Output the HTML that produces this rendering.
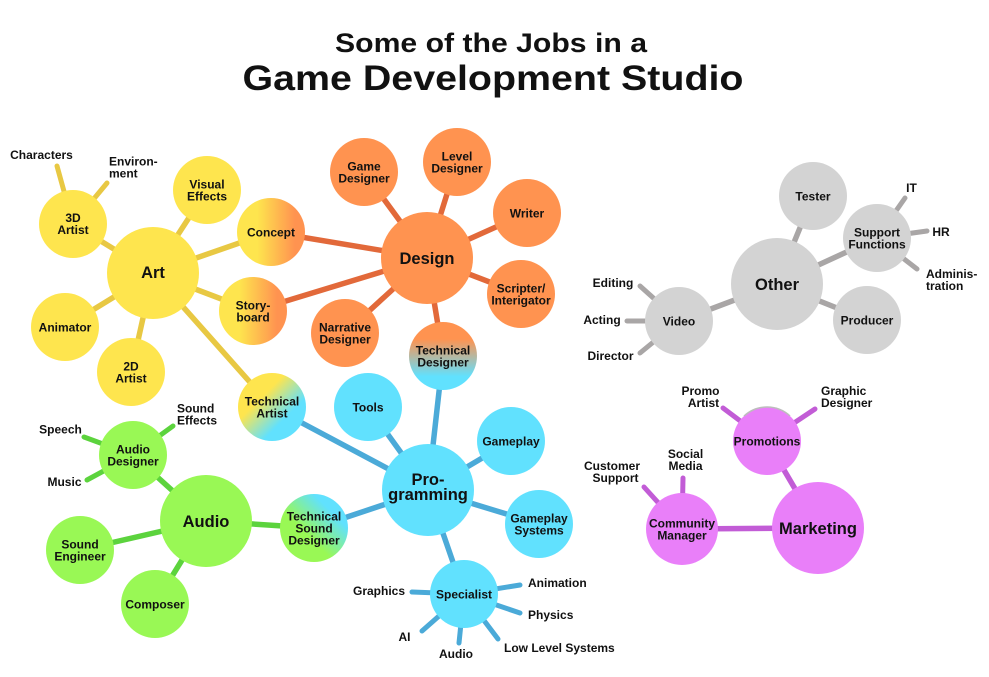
<!DOCTYPE html>
<html>
<head>
<meta charset="utf-8">
<style>
  html, body { margin: 0; padding: 0; background: #ffffff; }
  body { width: 989px; height: 677px; overflow: hidden; }
  svg { display: block; }
</style>
</head>
<body>
<svg width="989" height="677" viewBox="0 0 989 677" xmlns="http://www.w3.org/2000/svg" font-family="'Liberation Sans', Arial, sans-serif" font-weight="bold">
  <defs>
    <linearGradient id="gYO" x1="0" y1="0" x2="1" y2="0">
      <stop offset="0.3" stop-color="#FEE54E"/>
      <stop offset="0.85" stop-color="#FF9350"/>
    </linearGradient>
    <linearGradient id="gTD" x1="0" y1="0" x2="0" y2="1">
      <stop offset="0.25" stop-color="#FF9350"/>
      <stop offset="0.8" stop-color="#61E1FE"/>
    </linearGradient>
    <linearGradient id="gTA" x1="0" y1="0" x2="1" y2="1">
      <stop offset="0.35" stop-color="#FEE54E"/>
      <stop offset="0.68" stop-color="#61E1FE"/>
    </linearGradient>
    <linearGradient id="gTSD" x1="0" y1="1" x2="1" y2="0">
      <stop offset="0.4" stop-color="#99F855"/>
      <stop offset="0.75" stop-color="#61E1FE"/>
    </linearGradient>
  </defs>

  <!-- Title -->
  <text x="491" y="52" font-size="26.5" text-anchor="middle" fill="#111" textLength="312" lengthAdjust="spacingAndGlyphs">Some of the Jobs in a</text>
  <text x="493" y="90" font-size="35" text-anchor="middle" fill="#111" textLength="501" lengthAdjust="spacingAndGlyphs">Game Development Studio</text>

  <!-- ===== Connectors ===== -->
  <g stroke-linecap="round" fill="none">
    <!-- Art (yellow) -->
    <g stroke="#E8C843" stroke-width="5.5">
      <line x1="153" y1="273" x2="73" y2="224"/>
      <line x1="153" y1="273" x2="207" y2="190"/>
      <line x1="153" y1="273" x2="271" y2="232"/>
      <line x1="153" y1="273" x2="253" y2="311"/>
      <line x1="153" y1="273" x2="65" y2="327"/>
      <line x1="153" y1="273" x2="131" y2="372"/>
      <line x1="153" y1="273" x2="272" y2="407"/>
    </g>
    <g stroke="#E8C843" stroke-width="5">
      <line x1="57" y1="166" x2="73" y2="224"/>
      <line x1="107" y1="183" x2="73" y2="224"/>
    </g>
    <!-- Design (orange) -->
    <g stroke="#E2693A" stroke-width="5.5">
      <line x1="427" y1="258" x2="364" y2="172"/>
      <line x1="427" y1="258" x2="457" y2="162"/>
      <line x1="427" y1="258" x2="527" y2="213"/>
      <line x1="427" y1="258" x2="521" y2="294"/>
      <line x1="427" y1="258" x2="345" y2="333"/>
      <line x1="427" y1="258" x2="443" y2="356"/>
      <line x1="427" y1="258" x2="271" y2="232"/>
      <line x1="427" y1="258" x2="253" y2="311"/>
    </g>
    <!-- Programming (blue) -->
    <g stroke="#4BAAD8" stroke-width="5.5">
      <line x1="428" y1="490" x2="368" y2="407"/>
      <line x1="428" y1="490" x2="511" y2="441"/>
      <line x1="428" y1="490" x2="539" y2="524"/>
      <line x1="428" y1="490" x2="464" y2="594"/>
      <line x1="428" y1="490" x2="314" y2="528"/>
      <line x1="428" y1="490" x2="443" y2="356"/>
      <line x1="428" y1="490" x2="272" y2="407"/>
    </g>
    <g stroke="#4BAAD8" stroke-width="5">
      <line x1="412" y1="592" x2="464" y2="594"/>
      <line x1="520" y1="585" x2="464" y2="594"/>
      <line x1="520" y1="613" x2="464" y2="594"/>
      <line x1="498" y1="639" x2="464" y2="594"/>
      <line x1="459" y1="643" x2="464" y2="594"/>
      <line x1="422" y1="631" x2="464" y2="594"/>
    </g>
    <!-- Audio (green) -->
    <g stroke="#5CD33D" stroke-width="5.5">
      <line x1="206" y1="521" x2="133" y2="455"/>
      <line x1="206" y1="521" x2="80" y2="550"/>
      <line x1="206" y1="521" x2="155" y2="604"/>
      <line x1="206" y1="521" x2="314" y2="528"/>
    </g>
    <g stroke="#5CD33D" stroke-width="5">
      <line x1="84" y1="437" x2="133" y2="455"/>
      <line x1="87" y1="480" x2="133" y2="455"/>
      <line x1="173" y1="426" x2="133" y2="455"/>
    </g>
    <!-- Other (gray) -->
    <g stroke="#A9A6A6" stroke-width="5.5">
      <line x1="777" y1="284" x2="813" y2="196"/>
      <line x1="777" y1="284" x2="877" y2="238"/>
      <line x1="777" y1="284" x2="867" y2="320"/>
      <line x1="777" y1="284" x2="679" y2="321"/>
    </g>
    <g stroke="#A9A6A6" stroke-width="5">
      <line x1="640" y1="286" x2="679" y2="321"/>
      <line x1="627" y1="321" x2="679" y2="321"/>
      <line x1="640" y1="353" x2="679" y2="321"/>
      <line x1="905" y1="198" x2="877" y2="238"/>
      <line x1="927" y1="231" x2="877" y2="238"/>
      <line x1="917" y1="269" x2="877" y2="238"/>
    </g>
    <!-- Marketing (pink) -->
    <g stroke="#C25CD6" stroke-width="5.5">
      <line x1="818" y1="528" x2="767" y2="441"/>
      <line x1="818" y1="528" x2="682" y2="529"/>
    </g>
    <g stroke="#C25CD6" stroke-width="5">
      <line x1="723" y1="408" x2="767" y2="441"/>
      <line x1="815" y1="409" x2="767" y2="441"/>
      <line x1="644" y1="487" x2="682" y2="529"/>
      <line x1="683" y1="478" x2="682" y2="529"/>
    </g>
  </g>

  <!-- ===== Circles ===== -->
  <!-- Art -->
  <g fill="#FEE54E">
    <circle cx="153" cy="273" r="46"/>
    <circle cx="73" cy="224" r="34"/>
    <circle cx="207" cy="190" r="34"/>
    <circle cx="65" cy="327" r="34"/>
    <circle cx="131" cy="372" r="34"/>
  </g>
  <circle cx="271" cy="232" r="34" fill="url(#gYO)"/>
  <circle cx="253" cy="311" r="34" fill="url(#gYO)"/>
  <circle cx="272" cy="407" r="34" fill="url(#gTA)"/>
  <!-- Design -->
  <g fill="#FF9350">
    <circle cx="427" cy="258" r="46"/>
    <circle cx="364" cy="172" r="34"/>
    <circle cx="457" cy="162" r="34"/>
    <circle cx="527" cy="213" r="34"/>
    <circle cx="521" cy="294" r="34"/>
    <circle cx="345" cy="333" r="34"/>
  </g>
  <circle cx="443" cy="356" r="34" fill="url(#gTD)"/>
  <!-- Programming -->
  <g fill="#61E1FE">
    <circle cx="428" cy="490" r="46"/>
    <circle cx="368" cy="407" r="34"/>
    <circle cx="511" cy="441" r="34"/>
    <circle cx="539" cy="524" r="34"/>
    <circle cx="464" cy="594" r="34"/>
  </g>
  <circle cx="314" cy="528" r="34" fill="url(#gTSD)"/>
  <!-- Audio -->
  <g fill="#99F855">
    <circle cx="206" cy="521" r="46"/>
    <circle cx="133" cy="455" r="34"/>
    <circle cx="80" cy="550" r="34"/>
    <circle cx="155" cy="604" r="34"/>
  </g>
  <!-- Other -->
  <g fill="#D3D3D3">
    <circle cx="777" cy="284" r="46"/>
    <circle cx="813" cy="196" r="34"/>
    <circle cx="877" cy="238" r="34"/>
    <circle cx="867" cy="320" r="34"/>
    <circle cx="679" cy="321" r="34"/>
  </g>
  <!-- Marketing -->
  <g fill="#E97FF9">
    <circle cx="818" cy="528" r="46"/>
    <circle cx="767" cy="441" r="34"/>
    <circle cx="682" cy="529" r="36"/>
  </g>
  <path d="M 744 416 A 34 34 0 0 1 790 416" fill="none" stroke="#BDBDBD" stroke-width="1.5"/>

  <!-- ===== Labels in circles ===== -->
  <g fill="#111" text-anchor="middle" font-size="16.5">
    <text x="153" y="278">Art</text>
    <text x="427" y="264">Design</text>
    <text x="428" y="485">Pro-</text>
    <text x="428" y="500">gramming</text>
    <text x="206" y="527">Audio</text>
    <text x="777" y="290">Other</text>
    <text x="818" y="534">Marketing</text>
  </g>

  <g fill="#111" text-anchor="middle" font-size="12">
    <!-- Art -->
    <text x="73" y="222">3D</text>
    <text x="73" y="234">Artist</text>
    <text x="207" y="188.5">Visual</text>
    <text x="207" y="200.5">Effects</text>
    <text x="271" y="236.5">Concept</text>
    <text x="253" y="309.5">Story-</text>
    <text x="253" y="321.5">board</text>
    <text x="65" y="331.5">Animator</text>
    <text x="131" y="370.5">2D</text>
    <text x="131" y="382.5">Artist</text>
    <text x="272" y="405.5">Technical</text>
    <text x="272" y="417.5">Artist</text>
    <!-- Design -->
    <text x="364" y="170.5">Game</text>
    <text x="364" y="182.5">Designer</text>
    <text x="457" y="160.5">Level</text>
    <text x="457" y="172.5">Designer</text>
    <text x="527" y="217.5">Writer</text>
    <text x="521" y="292.5">Scripter/</text>
    <text x="521" y="304.5">Interigator</text>
    <text x="345" y="331.5">Narrative</text>
    <text x="345" y="343.5">Designer</text>
    <text x="443" y="354.5">Technical</text>
    <text x="443" y="366.5">Designer</text>
    <!-- Programming -->
    <text x="368" y="411.5">Tools</text>
    <text x="511" y="445.5">Gameplay</text>
    <text x="539" y="522.5">Gameplay</text>
    <text x="539" y="534.5">Systems</text>
    <text x="464" y="598.5">Specialist</text>
    <text x="314" y="520.5">Technical</text>
    <text x="314" y="532.5">Sound</text>
    <text x="314" y="544.5">Designer</text>
    <!-- Audio -->
    <text x="133" y="453.5">Audio</text>
    <text x="133" y="465.5">Designer</text>
    <text x="80" y="548.5">Sound</text>
    <text x="80" y="560.5">Engineer</text>
    <text x="155" y="608.5">Composer</text>
    <!-- Other -->
    <text x="813" y="200.5">Tester</text>
    <text x="877" y="236.5">Support</text>
    <text x="877" y="248.5">Functions</text>
    <text x="867" y="324.5">Producer</text>
    <text x="679" y="325.5">Video</text>
    <!-- Marketing -->
    <text x="767" y="445.5">Promotions</text>
    <text x="682" y="527.5">Community</text>
    <text x="682" y="539.5">Manager</text>
  </g>

  <!-- ===== Outer leaf labels ===== -->
  <g fill="#111" font-size="12">
    <text x="41.5" y="159" text-anchor="middle">Characters</text>
    <text x="109" y="165.5">Environ-</text>
    <text x="109" y="177.5">ment</text>

    <text x="60.5" y="433.5" text-anchor="middle">Speech</text>
    <text x="64.5" y="486" text-anchor="middle">Music</text>
    <text x="177" y="412.5">Sound</text>
    <text x="177" y="424.5">Effects</text>

    <text x="613" y="287" text-anchor="middle">Editing</text>
    <text x="602" y="324" text-anchor="middle">Acting</text>
    <text x="610.5" y="360" text-anchor="middle">Director</text>
    <text x="911.5" y="192" text-anchor="middle">IT</text>
    <text x="941" y="236" text-anchor="middle">HR</text>
    <text x="926" y="278">Adminis-</text>
    <text x="926" y="290">tration</text>

    <text x="379" y="595" text-anchor="middle">Graphics</text>
    <text x="528" y="587">Animation</text>
    <text x="528" y="619">Physics</text>
    <text x="504" y="652">Low Level Systems</text>
    <text x="456" y="658" text-anchor="middle">Audio</text>
    <text x="404.5" y="641" text-anchor="middle">AI</text>

    <text x="700.5" y="395" text-anchor="middle">Promo</text>
    <text x="703.5" y="407" text-anchor="middle">Artist</text>
    <text x="821" y="395">Graphic</text>
    <text x="821" y="407">Designer</text>
    <text x="612" y="470" text-anchor="middle">Customer</text>
    <text x="615.5" y="482" text-anchor="middle">Support</text>
    <text x="685.5" y="458" text-anchor="middle">Social</text>
    <text x="685.5" y="470" text-anchor="middle">Media</text>
  </g>
</svg>
</body>
</html>
